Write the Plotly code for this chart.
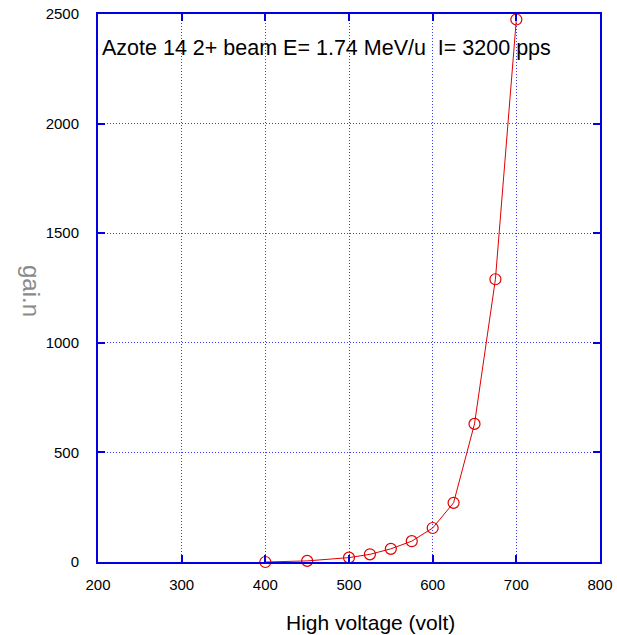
import plotly.graph_objects as go

voltage = [400, 450, 500, 525, 550, 575, 600, 625, 650, 675, 700]
gain = [0, 5, 20, 35, 60, 95, 155, 270, 630, 1290, 2475]

x_ticks = [200, 300, 400, 500, 600, 700, 800]
y_ticks = [0, 500, 1000, 1500, 2000, 2500]

FONT = "Liberation Sans, Arial"

fig = go.Figure()
fig.add_trace(go.Scatter(
    x=voltage, y=gain, mode="lines+markers",
    line=dict(color="#e00000", width=1),
    marker=dict(symbol="circle-open", size=11, color="#e00000", line=dict(width=1.2)),
    showlegend=False, cliponaxis=False,
))

axis_common = dict(
    showgrid=True, gridcolor="#3a3aff", griddash="1px,2px", gridwidth=1,
    showline=True, linecolor="#0000e0", linewidth=2, mirror="allticks",
    ticks="inside", ticklen=7, tickcolor="#0000e0", tickwidth=1.5,
    zeroline=False, automargin=False,
    tickfont=dict(family=FONT, size=15, color="#000000"),
)

fig.update_xaxes(range=[200, 800], tickvals=x_ticks, ticklabelstandoff=8, **axis_common)
fig.update_yaxes(range=[0, 2500], tickvals=y_ticks, ticklabelstandoff=14, **axis_common)

fig.add_annotation(text="High voltage (volt)", xref="paper", yref="paper",
                   x=(370 - 98) / 502, y=-(622 - 562) / 548, xanchor="center", yanchor="middle",
                   showarrow=False, font=dict(family=FONT, size=21, color="#000000"))
fig.add_annotation(text="gai.n", xref="paper", yref="paper", x=(32 - 98) / 502, y=(562 - 291) / 548,
                   xanchor="center", yanchor="middle",
                   textangle=90, showarrow=False,
                   font=dict(family=FONT, size=24, color="#8a8a8a"))
fig.add_annotation(text="Azote 14 2+ beam E= 1.74 MeV/u  I= 3200 pps",
                   xref="paper", yref="paper", x=0.003, y=(562 - 48) / 548,
                   xanchor="left", yanchor="middle", showarrow=False,
                   font=dict(family=FONT, size=21.5, color="#000000"))

fig.update_layout(
    width=617, height=635,
    margin=dict(l=98, r=17, t=14, b=73),
    paper_bgcolor="white", plot_bgcolor="white",
)

fig.write_html("out.html")
